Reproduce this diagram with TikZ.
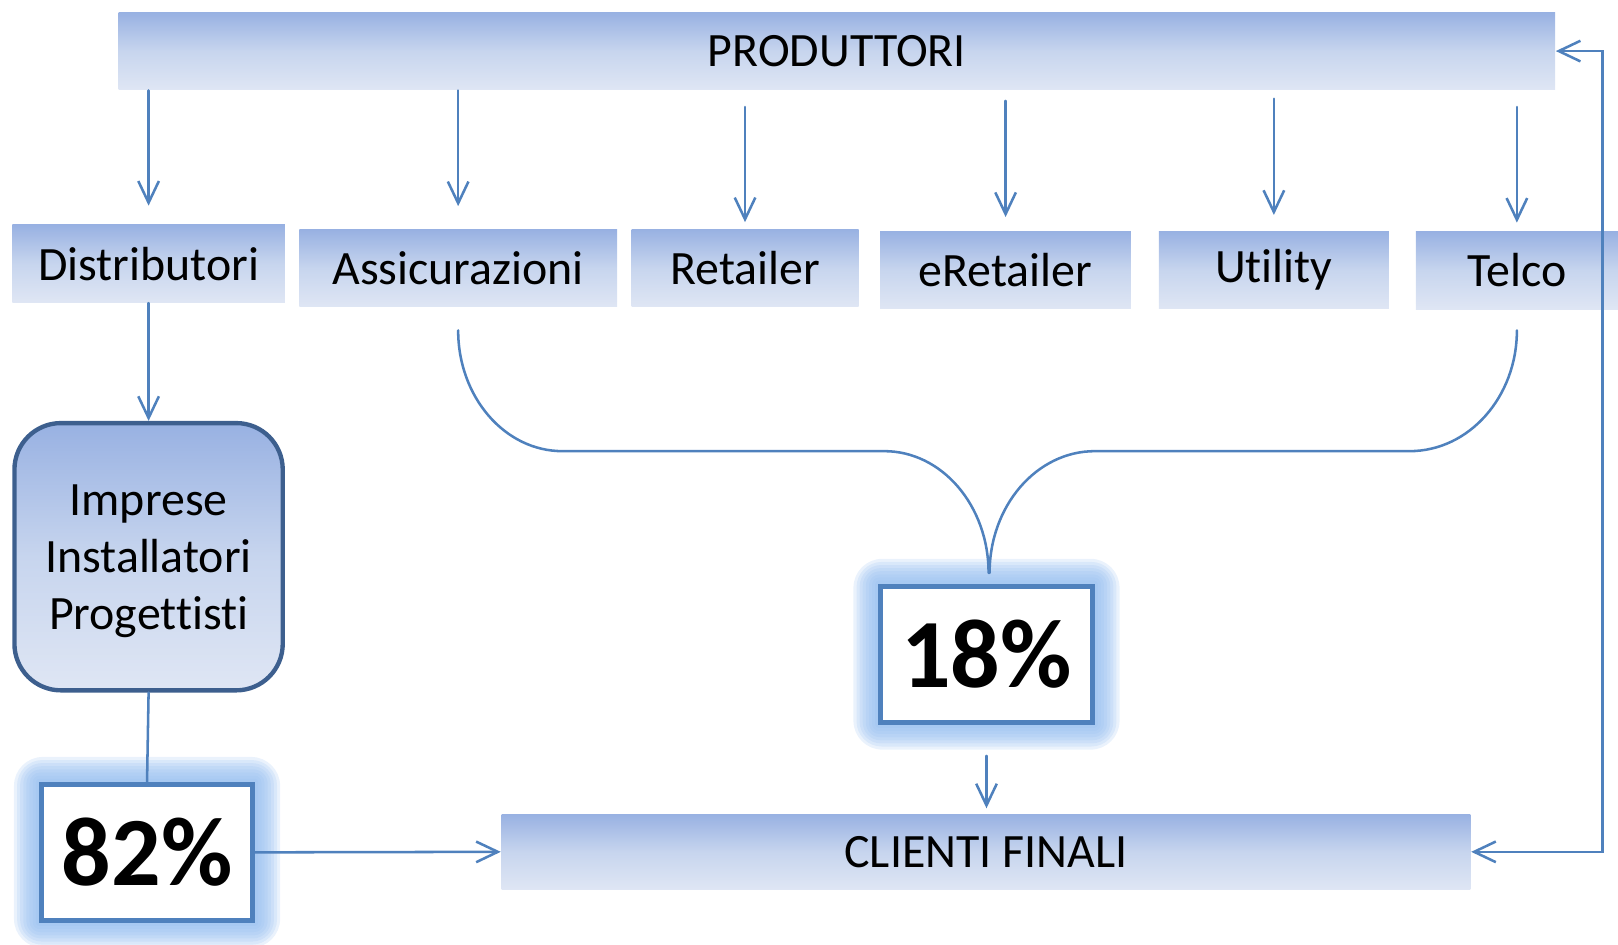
\documentclass[tikz,border=0pt]{standalone}
\usepackage{fontspec}
\setmainfont{Carlito}[Ligatures=NoCommon]
\usetikzlibrary{arrows.meta}
\usetikzlibrary{backgrounds}
\definecolor{linkblue}{RGB}{79,129,189}
\definecolor{boxtop}{RGB}{152,177,226}
\definecolor{boxmid}{RGB}{199,213,238}
\definecolor{boxbot}{RGB}{223,230,244}
\definecolor{frameblue}{RGB}{61,95,142}
\definecolor{glowblue}{RGB}{150,190,240}
\tikzset{level box/.style={top color=boxtop,bottom color=boxbot,middle color=boxmid,
		 inner sep=0pt,minimum height=0.75cm,font=\fontsize{13.2}{15.7}\selectfont}}
\tikzset{pct box/.style={draw=linkblue,line width=1.4pt,fill=white,inner sep=0pt,
		 minimum width=2.05cm,minimum height=1.32cm,font=\bfseries\fontsize{27}{30}\selectfont}}

\begin{document}
\begin{tikzpicture}[line cap=round,conn/.style={draw=linkblue,line width=0.7pt},
		>={Straight Barb[length=2.1mm,width=2mm]}]
	\useasboundingbox (0,0) rectangle (15.68,-9.15);

	\node[level box,minimum width=13.92cm] (prod) at (8.11,-0.495) {PRODUTTORI};
	\node[level box,minimum width=2.64cm] (dist) at (1.44,-2.555) {Distributori};
	\foreach \n/\x/\y/\w/\t in {assic/4.44/-2.60/3.08/Assicurazioni,ret/7.22/-2.595/2.20/Retailer,
			eret/9.745/-2.615/2.43/eRetailer,util/12.345/-2.615/2.23/Utility,telco/14.70/-2.62/1.96/Telco}
		\node[level box,minimum width=\w cm] (\n) at (\x,\y) {\t};

	\node[level box,draw=frameblue,line width=1.2pt,rounded corners=4.5mm,align=center,
		minimum width=2.60cm,minimum height=2.59cm,text depth=0pt] (imp) at (1.44,-5.395)
		{Imprese\\Installatori\\Progettisti};

	\node[pct box] (p82) at (1.425,-8.26) {82\%};
	\node[pct box] (p18) at (9.56,-6.34) {18\%};
	\node[level box,minimum width=9.39cm,minimum height=0.73cm] (cli) at (9.555,-8.255) {CLIENTI FINALI};

	% glow round the two percentages
	\begin{scope}[on background layer]
		\foreach \b in {p82,p18}
			\foreach \g in {1,...,8}
				\fill[glowblue,opacity=.2,rounded corners=\g*0.35mm]
					([shift={(-\g*0.3mm,-\g*0.3mm)}]\b.south west) rectangle
					([shift={(\g*0.3mm,\g*0.3mm)}]\b.north east);
	\end{scope}

	\foreach \n/\a/\b in {dist/0/1.8,assic/0/2.2,ret/1.6/0.6,eret/1.0/1.3,util/0.8/1.5,telco/1.6/0.8}
		\draw[conn,->,shorten <=\a mm,shorten >=\b mm] (\n.north |- prod.south) -- (\n.north);

	\draw[conn,->] (dist.south) -- (imp.north);
	\draw[conn] (imp.south) -- (p82.north);
	\draw[conn,->] (p82.east) -- (cli.west);
	\draw[conn,->,shorten <=3mm,shorten >=0.5mm] (p18.south) -- (p18.south |- cli.north);

	% brace into 18%
	\draw[conn] ([yshift=-2.2mm]assic.south)
		arc[start angle=180,end angle=270,x radius=1.01,y radius=1.17] -- ++(3.12,0)
		arc[start angle=90,end angle=0,x radius=1.01,y radius=1.18];
	\draw[conn] ([yshift=-2mm]telco.south)
		arc[start angle=0,end angle=-90,x radius=1.04,y radius=1.17] -- ++(-3.05,0)
		arc[start angle=90,end angle=180,x radius=1.02,y radius=1.18];

	\coordinate (fb) at (15.53,0);
	\draw[conn,<->] (cli.east) -- (cli.east -| fb) -- (prod.east -| fb) -- (prod.east);
\end{tikzpicture}
\end{document}
